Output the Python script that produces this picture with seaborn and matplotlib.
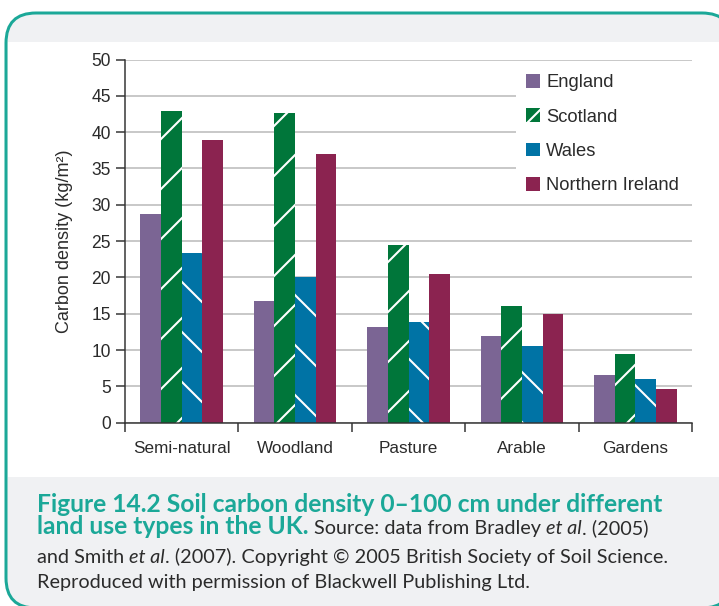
import numpy as np
import pandas as pd
import seaborn as sns
import matplotlib.pyplot as plt
from matplotlib import font_manager
from matplotlib.patches import FancyBboxPatch, Rectangle, Patch

# data
land_use = ['Semi-natural', 'Woodland', 'Pasture', 'Arable', 'Gardens']
countries = ['England', 'Scotland', 'Wales', 'Northern Ireland']
england = [28.7, 16.7, 13.2, 11.9, 6.5]
scotland = [42.9, 42.6, 24.4, 16.0, 9.4]
wales = [23.3, 20.0, 13.8, 10.5, 6.0]
northern_ireland = [38.9, 37.0, 20.5, 14.9, 4.6]
y_ticks = [0, 5, 10, 15, 20, 25, 30, 35, 40, 45, 50]
y_label = 'Carbon density (kg/m²)'

caption = [
    [('Figure 14.2 Soil carbon density 0\u2013100 cm under different', 'bold')],
    [('land use types in the UK.', 'bold'), (' Source: data from Bradley', 'normal'),
     (' et al', 'italic'), ('. (2005)', 'normal')],
    [('and Smith', 'normal'), (' et al', 'italic'),
     ('. (2007). Copyright \u00a9 2005 British Society of Soil Science.', 'normal')],
    [('Reproduced with permission of Blackwell Publishing Ltd.', 'normal')],
]

colours = ['#7b6594', '#00763a', '#0073a5', '#8b2350']
hatches = ['', '/', '\\', '']
teal = '#1ba898'
dark = '#2b2b2b'

W, H, DPI = 719, 606, 150


def pt(p):
    # pixels -> points at this dpi
    return p * 72 / DPI


def fx(x):
    return x / W


def fy(y):
    return 1 - y / H


installed = {f.name for f in font_manager.fontManager.ttflist}
narrow = 'Liberation Sans Narrow' if 'Liberation Sans Narrow' in installed else 'Liberation Sans'
squeeze = 1.0 if narrow == 'Liberation Sans Narrow' else 0.9
cap_font = 'Lato' if 'Lato' in installed else 'DejaVu Sans'

plt.rcParams['font.family'] = [narrow, 'DejaVu Sans']
plt.rcParams['hatch.linewidth'] = 1.0

df = pd.DataFrame({
    'land use': land_use * len(countries),
    'country': np.repeat(countries, len(land_use)),
    'value': england + scotland + wales + northern_ireland,
})

fig = plt.figure(figsize=(W / DPI, H / DPI), dpi=DPI)

# panel: grey filled rounded box with teal edge (runs off right/bottom), white middle band
# (filled so that agg does not clip the outline along the canvas edge)
x0, x1, y0, y1 = 6, 732, 13, 608
frame = FancyBboxPatch((fx(x0), fy(y1)), fx(x1) - fx(x0), fy(y0) - fy(y1),
                       boxstyle='round,pad=0,rounding_size=%f' % (30 / W),
                       mutation_aspect=W / H, transform=fig.transFigure,
                       facecolor='#f0f1f3', edgecolor=teal, linewidth=pt(3), zorder=-3)
fig.add_artist(frame)
middle = Rectangle((fx(8), fy(477)), 1, fy(42) - fy(477), facecolor='white',
                   edgecolor='none', transform=fig.transFigure, zorder=-2)
fig.add_artist(middle)

ax = fig.add_axes([fx(125), fy(422.7), 567 / W, 363.2 / H])
ax.patch.set_alpha(0)

sns.barplot(data=df, x='land use', y='value', hue='country', order=land_use,
            hue_order=countries, palette=colours, saturation=1, width=0.73,
            errorbar=None, legend=False, ax=ax)

for cont, h in zip(ax.containers, hatches):
    for bar in cont:
        bar.set_edgecolor('white')
        bar.set_linewidth(0)
        if h:
            bar.set_hatch(h)

ax.set_xlim(-0.5, len(land_use) - 0.5)
ax.set_ylim(0, 50)
ax.set_yticks(y_ticks)
ax.set_xticks([i - 0.5 for i in range(len(land_use) + 1)], labels=[])
ax.set_xticks(range(len(land_use)), labels=land_use, minor=True)
ax.set_xlabel('')

ax.tick_params(axis='x', which='major', length=pt(9), width=pt(1.5), color='#333333')
ax.tick_params(axis='x', which='minor', length=0, pad=pt(18),
               labelsize=pt(19) * squeeze, labelcolor=dark)
ax.tick_params(axis='y', length=pt(9), width=pt(1.5), color='#333333', pad=pt(5),
               labelsize=pt(19.5) * squeeze, labelcolor=dark)

for side in ['top', 'right']:
    ax.spines[side].set_visible(False)
for side in ['left', 'bottom']:
    ax.spines[side].set_color('#333333')
    ax.spines[side].set_linewidth(pt(1.5))

ax.grid(axis='y', color='#c9c9c9', linewidth=pt(2))
ax.set_axisbelow(True)

ax.set_ylabel(y_label, fontsize=pt(20) * squeeze, color=dark)
ax.yaxis.set_label_coords((73 - 125) / 567, 0.5)

handles = [Patch(facecolor=c, edgecolor='white', linewidth=0, hatch=h)
           for c, h in zip(colours, hatches)]
fs_px = 20.5 * squeeze
leg_x = (516 - 125) / 567
leg_top = (422.7 - 64) / 363.2
leg = ax.legend(handles, countries, loc='upper left',
                bbox_to_anchor=(leg_x, 0.4, 1 - leg_x, leg_top - 0.4),
                mode='expand', frameon=True, facecolor='white', edgecolor='none', framealpha=1,
                fancybox=False, fontsize=pt(fs_px), borderpad=10 / fs_px, borderaxespad=0,
                handlelength=14 / fs_px, handleheight=14 / fs_px, handletextpad=6 / fs_px,
                labelspacing=0.93)
for t in leg.get_texts():
    t.set_color(dark)

# caption, fitted to the reference line widths
renderer = fig.canvas.get_renderer()
styles = {
    'bold': dict(family=cap_font, weight='bold', color=teal),
    'normal': dict(family=cap_font, color=dark),
    'italic': dict(family=cap_font, style='italic', color=dark),
}


def put(x, y, s, size, style):
    return fig.text(fx(x), fy(y), s, va='baseline', ha='left', fontsize=size, **styles[style])


def width(t):
    return t.get_window_extent(renderer).width


tmp = put(0, 0, caption[0][0][0], pt(21), 'bold')
bold_size = pt(21) * 626 / width(tmp)
tmp.remove()
tmp = put(0, 0, ''.join(s for s, _ in caption[2]), pt(18), 'normal')
reg_size = pt(18) * 633 / width(tmp)
tmp.remove()
a = put(0, 0, 'n n', reg_size, 'normal')
b = put(0, 0, 'nn', reg_size, 'normal')
gap = width(a) - width(b)
a.remove()
b.remove()

baselines = [512, 534, 563, 588]
for line, y in zip(caption, baselines):
    x = 37
    for s, style in line:
        if s.startswith(' '):
            x += gap
            s = s.lstrip()
        size = bold_size if style == 'bold' else reg_size
        t = put(x, y, s, size, style)
        x += width(t)

fig.savefig('out.png', dpi=DPI, bbox_inches=None, pad_inches=0)
